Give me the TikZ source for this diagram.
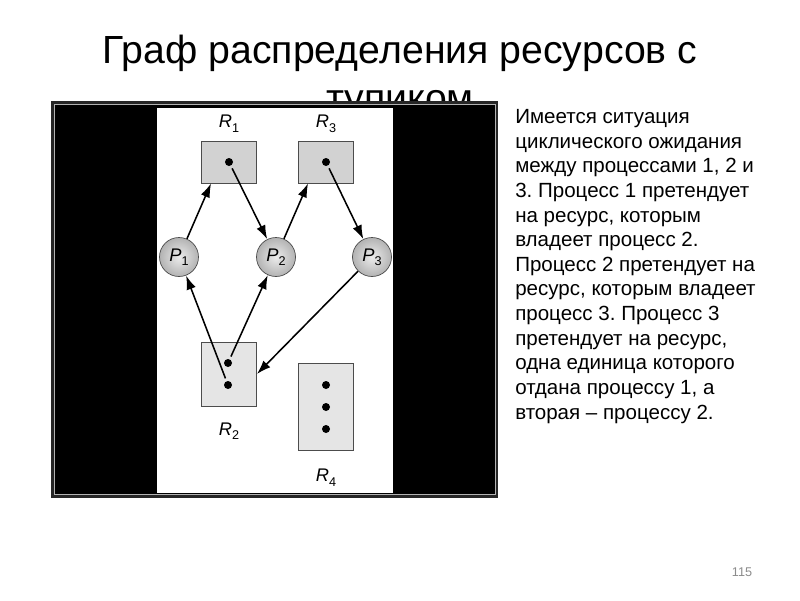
\documentclass[tikz,border=0pt]{standalone}
\usepackage{fontspec}
\setmainfont{Liberation Sans}
\usetikzlibrary{arrows.meta,positioning}
\frenchspacing

\newcommand{\rlab}[2]{\textit{#1}\raisebox{-0.45ex}{\fontsize{9}{10}\selectfont #2}}

\begin{document}
\begin{tikzpicture}[x=0.025cm, y=-0.025cm,
        res/.style={rectangle, draw=gray!60!black, line width=0.6pt, minimum width=1.375cm, inner sep=0pt},
        proc/.style={circle, draw=gray!60!black, line width=0.5pt, inner color=gray!15, outer color=gray!60, minimum size=0.975cm, inner sep=0pt, font=\fontsize{13}{15}\selectfont},
        dot/.style={circle, fill=black, inner sep=0pt, minimum size=0.2cm},
        lbl/.style={inner sep=0pt, font=\fontsize{13}{15}\selectfont},
        arrow/.style={-{Latex[length=3.5mm,width=2.4mm]}, line width=1.1pt}
    ]
        \useasboundingbox (0,0) rectangle (800,600);
        \fill[white] (0,0) rectangle (800,600);

        % Title
        \node[anchor=base, font=\fontsize{27.9}{33}\selectfont] (title) at (400,63.3) {Граф распределения ресурсов с};
        \node[anchor=base, font=\fontsize{27.9}{33}\selectfont] (title2) at (400,111.5) {тупиком};

        % Picture frame
        \fill[black!85] (51,101) rectangle (498,498);
        \fill[black] (54,104) rectangle (495,495);
        \draw[gray!60, line width=0.8pt] (54.5,104.5) rectangle (495.5,494.5);
        \fill[white] (157,108) rectangle (393,493);

        % Resources R1 and R3
        \node[res, fill=gray!35, minimum height=1.05cm] (r1) at (229,162) {};
        \node[dot] (d1) at (r1) {};
        \node[lbl, above=0.2cm of r1] {\rlab{R}{1}};
        \node[res, fill=gray!35, minimum height=1.05cm] (r3) at (326,162) {};
        \node[dot] (d3) at (r3) {};
        \node[lbl, above=0.2cm of r3] {\rlab{R}{3}};

        % Processes
        \node[proc] (p1) at (179,257) {\rlab{P}{1}};
        \node[proc] (p2) at (276,257) {\rlab{P}{2}};
        \node[proc] (p3) at (372,257) {\rlab{P}{3}};

        % Resource R2 (two units)
        \node[res, fill=gray!20, minimum height=1.6cm] (r2) at (229,374) {};
        \node[dot] (d2a) at (228,363) {};
        \node[dot] (d2b) at (228,385) {};
        \node[lbl, below=0.4cm of r2] {\rlab{R}{2}};

        % Resource R4 (three units)
        \node[res, fill=gray!20, minimum height=2.175cm] (r4) at (326,407) {};
        \node[dot] (d4a) at (326,385) {};
        \node[dot] (d4b) at (326,407) {};
        \node[dot] (d4c) at (326,429) {};
        \node[lbl, below=0.45cm of r4] {\rlab{R}{4}};

        % Requests and assignments
        \draw[arrow] (p1) -- (r1.-130);
        \draw[arrow, shorten <=2pt] (d1) -- (p2);
        \draw[arrow] (p2) -- (r3.-130);
        \draw[arrow, shorten <=2pt] (d3) -- (p3);
        \draw[arrow, shorten <=2pt] (d2b) -- (p1);
        \draw[arrow, shorten <=2pt] (d2a) -- (p2);
        \draw[arrow] (p3) -- (r2.east);

        % Description
        \node[anchor=north west, align=left, inner sep=0pt, font=\fontsize{14.6}{17.5}\selectfont] (desc) at (515,109.3)
            {Имеется ситуация\\циклического ожидания\\между процессами 1, 2 и\\3. Процесс 1 претендует\\на ресурс, которым\\владеет процесс 2.\\Процесс 2 претендует на\\ресурс, которым владеет\\процесс 3. Процесс 3\\претендует на ресурс,\\одна единица которого\\отдана процессу 1, а\\вторая – процессу 2.};

        % Page number
        \node[anchor=base, text=gray!90, font=\fontsize{9}{10}\selectfont] (pnum) at (742,576.7) {115};
    \end{tikzpicture}
\end{document}
